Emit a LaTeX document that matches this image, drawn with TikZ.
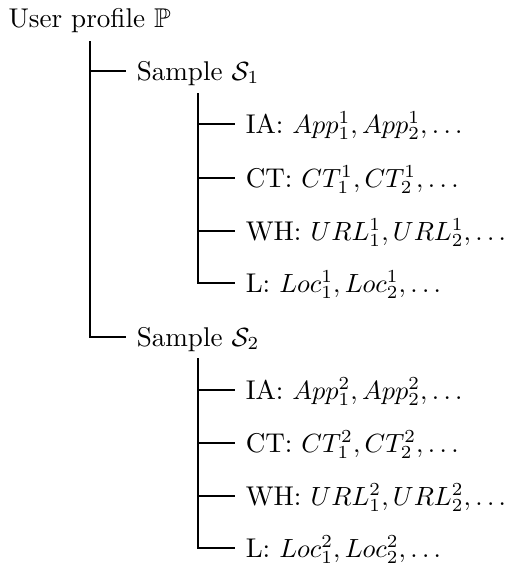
\documentclass[tikz,border=0pt]{standalone}
\usepackage{amssymb}
\begin{document}
\begin{tikzpicture}[x=0.38pt,y=-0.38pt,
  item/.style={anchor=west,inner xsep=3.9pt,inner ysep=0pt,text height=8pt,text depth=1.16pt,font=\fontsize{10.3pt}{12pt}\selectfont},
  branch/.style={line width=0.4pt,draw=black}]
\useasboundingbox (0,0) rectangle (507,566);
% root
\node[item,inner xsep=0pt] (root) at (8,18) {User profile $\mathbb{P}$};
\coordinate (r0) at (90,41);
% samples
\node[item] (s1) at (126,71) {Sample $\mathcal{S}_1$};
\node[item] (s2) at (126,337) {Sample $\mathcal{S}_2$};
\coordinate (a0) at (198,93);
\coordinate (b0) at (198,358);
% leaves of sample 1
\node[item] (a1) at (235,124) {IA: $App_1^1, App_2^1, \ldots$};
\node[item] (a2) at (235,178) {CT: $CT_1^1, CT_2^1, \ldots$};
\node[item] (a3) at (235,231) {WH: $URL_1^1, URL_2^1, \ldots$};
\node[item] (a4) at (235,283) {L: $Loc_1^1, Loc_2^1, \ldots$};
% leaves of sample 2
\node[item] (b1) at (235,390) {IA: $App_1^2, App_2^2, \ldots$};
\node[item] (b2) at (235,443) {CT: $CT_1^2, CT_2^2, \ldots$};
\node[item] (b3) at (235,496) {WH: $URL_1^2, URL_2^2, \ldots$};
\node[item] (b4) at (235,548) {L: $Loc_1^2, Loc_2^2, \ldots$};
% connectors
\draw[branch] (r0) |- (s1.west);
\draw[branch] (r0) |- (s2.west);
\foreach \n in {a1,a2,a3,a4} \draw[branch] (a0) |- (\n.west);
\foreach \n in {b1,b2,b3,b4} \draw[branch] (b0) |- (\n.west);
\end{tikzpicture}
\end{document}
